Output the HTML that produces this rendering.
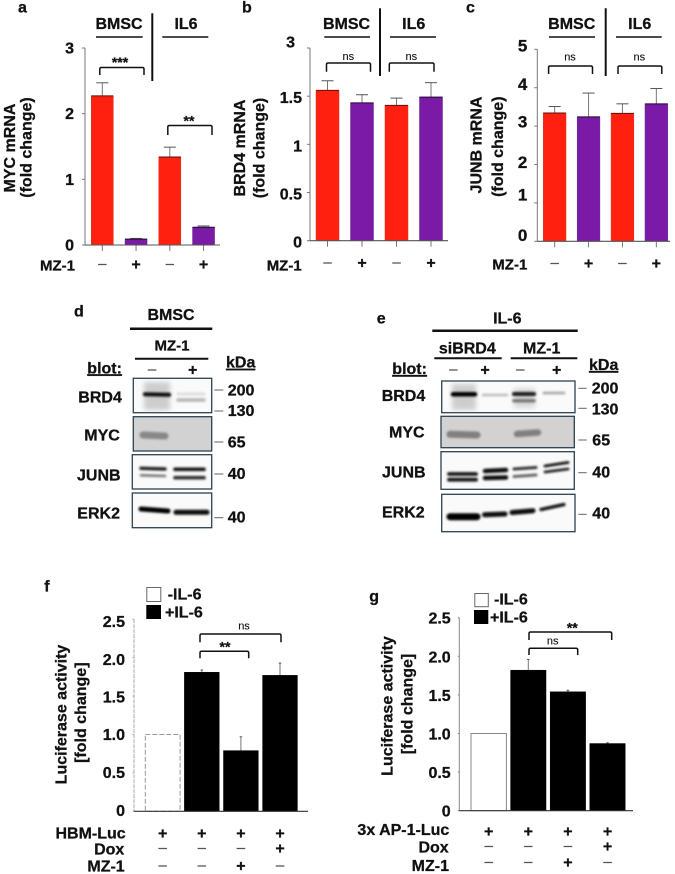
<!DOCTYPE html>
<html lang="en">
<head>
<meta charset="utf-8">
<title>MZ-1 figure panels a-g</title>
<style>
html,body{margin:0;padding:0;background:#fff}
svg{display:block;font-family:"Liberation Sans",Arial,sans-serif;font-weight:700;fill:#111;filter:blur(.3px)}
text{stroke:#111;stroke-width:.28}
text.thin{stroke:#555;stroke-width:.2}
.t16{font-size:16px}.t15{font-size:15px}
text.ns{font-size:11px;font-weight:400;text-anchor:middle;stroke-width:.12}
.star{font-size:14px;text-anchor:middle}.c{text-anchor:middle}.e{text-anchor:end}
.br{fill:none;stroke:#111;stroke-width:1.5}.hd{stroke:#111;stroke-width:1.6}.dv{stroke:#111;stroke-width:2}
.box{fill:#fafafa;stroke:#2c4150;stroke-width:1.3}.mw{stroke:#666;stroke-width:1}
.band{stroke-linecap:round;fill:none;filter:url(#band-blur)}
</style>
</head>
<body>
<svg id="figure" xmlns="http://www.w3.org/2000/svg" width="675" height="874" viewBox="0 0 675 874">
<defs>
<filter id="band-blur" x="-20%" y="-300%" width="140%" height="700%"><feGaussianBlur stdDeviation="1.1"/></filter>
<filter id="smear-blur" x="-30%" y="-60%" width="160%" height="220%"><feGaussianBlur stdDeviation="2.4"/></filter>
</defs>

<g id="panel-a">
<text class="t16" x="18" y="12.5">a</text>
<text class="t16 c" x="119" y="29">BMSC</text>
<line class="hd" x1="96" x2="142.7" y1="37" y2="37"/>
<text class="t16 c" x="186" y="29">IL6</text>
<line class="hd" x1="162.3" x2="208.3" y1="37" y2="37"/>
<line class="dv" x1="152.3" x2="152.3" y1="13.3" y2="81"/>
<path class="br" d="M99.8 75V69Q99.8 67.5 101.3 67.5H142.5Q144 67.5 144 69V75"/>
<text class="star" x="120" y="67">***</text>
<path class="br" d="M167.8 135V127Q167.8 125.5 169.3 125.5H210.5Q212 125.5 212 127V135"/>
<text class="star" x="189" y="125.3">**</text>
<g transform="translate(15,148) rotate(-90)"><text class="t16 c">MYC mRNA</text></g>
<g transform="translate(31.7,147.5) rotate(-90)"><text class="t16 c">(fold change)</text></g>
<text class="t15" x="40" y="270.7">MZ-1</text>
</g>

<g id="panel-b">
<text class="t16" x="242" y="12.7">b</text>
<text class="t16 c" x="346.5" y="29">BMSC</text>
<line class="hd" x1="324.3" x2="370" y1="37" y2="37"/>
<text class="t16 c" x="413.7" y="29">IL6</text>
<line class="hd" x1="390" x2="436" y1="37" y2="37"/>
<line class="dv" x1="380" x2="380" y1="8.3" y2="76"/>
<path class="br" d="M326.5 71.7V64.5Q326.5 63 328 63H369Q370.5 63 370.5 64.5V71.7"/>
<text class="ns" x="348.3" y="60">ns</text>
<path class="br" d="M389.3 71.7V64.5Q389.3 63 390.8 63H432.5Q434 63 434 64.5V71.7"/>
<text class="ns" x="411.3" y="60">ns</text>
<g transform="translate(245,148) rotate(-90)"><text class="t16 c">BRD4 mRNA</text></g>
<g transform="translate(264.3,148) rotate(-90)"><text class="t16 c">(fold change)</text></g>
<text class="t15" x="266.7" y="270.7">MZ-1</text>
</g>

<g id="panel-c">
<text class="t16" x="466" y="12.7">c</text>
<text class="t16 c" x="571.7" y="29">BMSC</text>
<line class="hd" x1="549" x2="595" y1="37" y2="37"/>
<text class="t16 c" x="639.7" y="29">IL6</text>
<line class="hd" x1="616" x2="661.7" y1="37" y2="37"/>
<line class="dv" x1="605.7" x2="605.7" y1="8.3" y2="76"/>
<path class="br" d="M548.6 74V67.5Q548.6 66 550.1 66H591Q592.5 66 592.5 67.5V74"/>
<text class="ns" x="570" y="60.7">ns</text>
<path class="br" d="M618 74V67.5Q618 66 619.5 66H660.3Q661.8 66 661.8 67.5V74"/>
<text class="ns" x="639.3" y="60.7">ns</text>
<g transform="translate(481.7,145) rotate(-90)"><text class="t16 c">JUNB mRNA</text></g>
<g transform="translate(503,146.7) rotate(-90)"><text class="t16 c">(fold change)</text></g>
<text class="t15" x="492.3" y="269.3">MZ-1</text>
</g>

<g id="panel-d">
<text class="t16" x="74" y="316.3">d</text>
<text class="t16 c" x="171" y="320">BMSC</text>
<line stroke="#111" stroke-width="2.5" x1="130" x2="212.3" y1="328.7" y2="328.7"/>
<text class="t15 c" x="172" y="350.7">MZ-1</text>
<line stroke="#111" stroke-width="2" x1="135" x2="208.3" y1="358.7" y2="358.7"/>
<text class="t16" x="87.3" y="373.3" text-decoration="underline">blot:</text>
<text class="t16" x="226" y="367.7" text-decoration="underline">kDa</text>
<text x="152" y="374" class="c thin" font-size="15" font-weight="400" fill="#555">–</text>
<text x="192.7" y="375" class="t16 c">+</text>
<text class="t16" x="78.3" y="402.7">BRD4</text>
<text class="t16" x="84.3" y="440.3">MYC</text>
<text class="t16" x="77" y="480.3">JUNB</text>
<text class="t16" x="77.3" y="518.3">ERK2</text>
<rect class="box" x="133.3" y="378.3" width="78.4" height="34.4"/>
<rect class="box" x="133.3" y="416.7" width="78.4" height="34.3" style="fill:#d2d2d2"/>
<rect class="box" x="132.3" y="454.7" width="79.4" height="34.3"/>
<rect class="box" x="132.3" y="493" width="79.4" height="34.7"/>
<rect x="144" y="382" width="26" height="28" fill="#aaa" opacity=".55" filter="url(#smear-blur)"/>
<g class="band">
<line x1="145" x2="169" y1="394.3" y2="394.8" stroke="#0a0a0a" stroke-width="4"/>
<line x1="178" x2="204" y1="400" y2="400" stroke="#b5b5b5" stroke-width="3.5"/>
<line x1="178" x2="204" y1="394" y2="394" stroke="#ddd" stroke-width="3"/>
<line x1="143" x2="165" y1="435" y2="436" stroke="#888" stroke-width="7"/>
<line x1="141" x2="165" y1="468.3" y2="469" stroke="#222" stroke-width="3.4"/>
<line x1="141" x2="165" y1="475.3" y2="476" stroke="#777" stroke-width="2.6"/>
<line x1="175" x2="204" y1="469.3" y2="469.3" stroke="#181818" stroke-width="3.6"/>
<line x1="175" x2="204" y1="477.7" y2="477.7" stroke="#333" stroke-width="3.6"/>
<line x1="141" x2="168" y1="509" y2="511" stroke="#050505" stroke-width="5"/>
<line x1="176" x2="207" y1="512.3" y2="512.3" stroke="#0a0a0a" stroke-width="5"/>
</g>
<line class="mw" x1="214.3" x2="223.3" y1="390" y2="390"/>
<line class="mw" x1="214.3" x2="223.3" y1="411" y2="411"/>
<line class="mw" x1="214.3" x2="223.3" y1="442" y2="442"/>
<line class="mw" x1="214.3" x2="223.3" y1="474" y2="474"/>
<line class="mw" x1="214.3" x2="223.3" y1="517.7" y2="517.7"/>
<text class="t16" x="227.7" y="395.7">200</text>
<text class="t16" x="227.7" y="416">130</text>
<text class="t16" x="227.7" y="447.7">65</text>
<text class="t16" x="227.7" y="479">40</text>
<text class="t16" x="227.7" y="522.3">40</text>
</g>

<g id="panel-e">
<text class="t16" x="376.7" y="323.3">e</text>
<text class="t16 c" x="507.3" y="323.3">IL-6</text>
<line stroke="#111" stroke-width="2.5" x1="432.3" x2="577.7" y1="330.7" y2="330.7"/>
<text class="t16 c" x="467.3" y="353.3">siBRD4</text>
<line stroke="#111" stroke-width="2" x1="434.3" x2="501.7" y1="358.3" y2="358.3"/>
<text class="t16 c" x="541.7" y="353.3">MZ-1</text>
<line stroke="#111" stroke-width="2" x1="510.7" x2="577.3" y1="358.3" y2="358.3"/>
<text class="t16" x="392.3" y="374" text-decoration="underline">blot:</text>
<text class="t16" x="589" y="370" text-decoration="underline">kDa</text>
<text x="453.3" y="374" class="c thin" font-size="15" font-weight="400" fill="#555">–</text>
<text x="485" y="375" class="t16 c">+</text>
<text x="520.3" y="374" class="c thin" font-size="15" font-weight="400" fill="#555">–</text>
<text x="556.7" y="375" class="t16 c">+</text>
<text class="t16" x="381.7" y="401">BRD4</text>
<text class="t16" x="389" y="437.3">MYC</text>
<text class="t16" x="382" y="477.7">JUNB</text>
<text class="t16" x="382" y="517.3">ERK2</text>
<rect class="box" x="441.7" y="381" width="133.3" height="31.7"/>
<rect class="box" x="441" y="416.3" width="133.3" height="31.4" style="fill:#d2d2d2"/>
<rect class="box" x="441" y="451.7" width="133.3" height="37.6"/>
<rect class="box" x="441.7" y="494.3" width="133.3" height="37.4"/>
<rect x="452" y="384" width="24" height="26" fill="#aaa" opacity=".55" filter="url(#smear-blur)"/>
<rect x="514" y="388" width="21" height="20" fill="#aaa" opacity=".4" filter="url(#smear-blur)"/>
<g class="band">
<line x1="453" x2="475" y1="394.3" y2="394.3" stroke="#060606" stroke-width="4.5"/>
<line x1="483" x2="507" y1="395" y2="395" stroke="#bbb" stroke-width="2.5"/>
<line x1="514" x2="534" y1="394" y2="394" stroke="#1a1a1a" stroke-width="4"/>
<line x1="514" x2="534" y1="400.7" y2="400.7" stroke="#777" stroke-width="3.5"/>
<line x1="544" x2="564" y1="393" y2="393" stroke="#aaa" stroke-width="2.8"/>
<line x1="450" x2="477" y1="434.3" y2="435" stroke="#808080" stroke-width="7"/>
<line x1="517" x2="538" y1="434" y2="432.5" stroke="#808080" stroke-width="6.500"/>
<line x1="449" x2="476" y1="474" y2="474" stroke="#181818" stroke-width="3.8"/>
<line x1="449" x2="476" y1="479.7" y2="479.7" stroke="#181818" stroke-width="3.8"/>
<line x1="485" x2="506" y1="471" y2="470" stroke="#0d0d0d" stroke-width="4.5"/>
<line x1="485" x2="506" y1="478" y2="477.5" stroke="#0d0d0d" stroke-width="4.5"/>
<line x1="514" x2="536" y1="469" y2="467.5" stroke="#333" stroke-width="3"/>
<line x1="514" x2="536" y1="476.5" y2="475" stroke="#666" stroke-width="3"/>
<line x1="545" x2="568" y1="466" y2="462.5" stroke="#111" stroke-width="2.8"/>
<line x1="545" x2="568" y1="472" y2="469" stroke="#222" stroke-width="2.8"/>
<line x1="450" x2="477" y1="516.7" y2="516.7" stroke="#050505" stroke-width="7"/>
<line x1="484.5" x2="505" y1="514.7" y2="514" stroke="#070707" stroke-width="5"/>
<line x1="512" x2="533" y1="512.5" y2="510.7" stroke="#070707" stroke-width="5"/>
<line x1="541" x2="564" y1="509.5" y2="504.5" stroke="#0d0d0d" stroke-width="3.2"/>
</g>
<line class="mw" x1="578.3" x2="586.7" y1="388.3" y2="388.3"/>
<line class="mw" x1="578.3" x2="586.7" y1="408.3" y2="408.3"/>
<line class="mw" x1="578.3" x2="586.7" y1="440" y2="440"/>
<line class="mw" x1="578.3" x2="586.7" y1="472.7" y2="472.7"/>
<line class="mw" x1="578.3" x2="586.7" y1="514.3" y2="514.3"/>
<text class="t16" x="591.7" y="393.7">200</text>
<text class="t16" x="591.7" y="414.3">130</text>
<text class="t16" x="592.3" y="445.7">65</text>
<text class="t16" x="592.3" y="477.7">40</text>
<text class="t16" x="592.3" y="518.3">40</text>
</g>

<g id="panel-f">
<text class="t16" x="44.3" y="591.7">f</text>
<rect x="146.8" y="587.5" width="14" height="14" fill="#fff" stroke="#666"/>
<rect x="146.3" y="605" width="14.7" height="14" fill="#000"/>
<text class="t16" x="167.7" y="599.7">-IL-6</text>
<text class="t16" x="165" y="617.7">+IL-6</text>
<g transform="translate(66.7,714.5) rotate(-90)"><text class="t16 c">Luciferase activity</text></g>
<g transform="translate(86,712.7) rotate(-90)"><text class="t16 c">[fold change]</text></g>
<text class="t16 e" x="125.7" y="838.3">HBM-Luc</text>
<text class="t16 e" x="124.3" y="854.3">Dox</text>
<text class="t16 e" x="124.7" y="871.7">MZ-1</text>
<path class="br" d="M200 642.3V635.5Q200 634 201.500 634H279.500Q281 634 281 635.5V642.3"/>
<text class="ns" x="244" y="629.300">ns</text>
<path class="br" d="M200 658.3V652.7Q200 651.200 201.500 651.200H247.200Q248.700 651.200 248.700 652.7V658.3"/>
<text class="star" x="225" y="651.300">**</text>
</g>

<g id="panel-g">
<text class="t16" x="369.3" y="601.7">g</text>
<rect x="474.8" y="593.5" width="13.5" height="13.2" fill="#fff" stroke="#666"/>
<rect x="474" y="610" width="14.3" height="14" fill="#000"/>
<text class="t16" x="494" y="604.3">-IL-6</text>
<text class="t16" x="490" y="622.7">+IL-6</text>
<g transform="translate(392.700,706) rotate(-90)"><text class="t16 c">Luciferase activity</text></g>
<g transform="translate(412.300,704) rotate(-90)"><text class="t16 c">[fold change]</text></g>
<text class="t16 e" x="449.300" y="835">3x AP-1-Luc</text>
<text class="t16 e" x="448.700" y="852.300">Dox</text>
<text class="t16 e" x="449" y="871">MZ-1</text>
<path class="br" d="M529 640V633.500Q529 632 530.500 632H610.200Q611.700 632 611.700 633.500V640"/>
<text class="star" x="572.300" y="632.300">**</text>
<path class="br" d="M529 655V649.800Q529 648.300 530.500 648.300H576.200Q577.700 648.300 577.700 649.800V655"/>
<text class="ns" x="552.700" y="644.300">ns</text>
</g>
</svg>

<script>
// Panels a, b, c
const mrnaTreatments = ['-', '+', '-', '+'];

const aValues = [2.27, 0.09, 1.34, 0.27];
const aErrorTops = [2.47, 0.10, 1.49, 0.29];
const aTickValues = [0, 1, 2, 3];
const aTickLabels = ['0', '1', '2', '3'];

const bValues = [1.56, 1.43, 1.405, 1.49];
const bErrorTops = [1.66, 1.515, 1.48, 1.64];
const bTickValues = [0, 0.5, 1, 1.5, 2];
const bTickLabels = ['0', '0.5', '1', '1.5', '3'];

const cValues = [3.34, 3.24, 3.33, 3.58];
const cErrorTops = [3.51, 3.86, 3.58, 3.98];
const cTickValues = [0, 1, 2, 3, 4, 5];
const cTickLabels = ['0', '1', '2', '3', '4', '5'];

// Panels f, g
const lucGroups = ['-IL-6', '+IL-6', '+IL-6', '+IL-6'];

const fValues = [1.0, 1.81, 0.79, 1.77];
const fErrorTops = [1.0, 1.84, 0.97, 1.93];
const fReporterRow = ['+', '+', '+', '+'];
const fDoxRow = ['-', '-', '-', '+'];
const fMzRow = ['-', '-', '+', '-'];

const gValues = [1.0, 1.82, 1.54, 0.87];
const gErrorTops = [1.0, 1.96, 1.56, 0.88];
const gReporterRow = ['+', '+', '+', '+'];
const gDoxRow = ['-', '-', '-', '+'];
const gMzRow = ['-', '-', '+', '-'];

const lucTickValues = [0, 0.5, 1, 1.5, 2, 2.5];
const lucTickLabels = ['0', '0.5', '1.0', '1.5', '2.0', '2.5'];

const SVG_NS = 'http://www.w3.org/2000/svg';

function make(tag, parent, attrs) {
  const el = document.createElementNS(SVG_NS, tag);
  for (const k in attrs) el.setAttribute(k, attrs[k]);
  parent.appendChild(el);
  return el;
}

function drawSign(parent, sign, x, cy) {
  const isPlus = sign === '+';
  const el = make('text', parent, {
    x: x, y: cy + (isPlus ? 5.3 : 4.3), 'text-anchor': 'middle',
    'font-size': isPlus ? 16 : 15, 'font-weight': isPlus ? 700 : 400, fill: isPlus ? '#111' : '#555',
    class: isPlus ? '' : 'thin'
  });
  el.textContent = isPlus ? '+' : '–';
  
  
}

function drawChart(o) {
  const g = document.getElementById(o.panel);
  const yPos = v => o.y0 - (v / o.yMax) * (o.y0 - o.yTop);
  const barX = i => o.firstBar + i * o.step;
  const barMid = i => barX(i) + o.barW / 2;

  o.tickValues.forEach((t, i) => {
    const tick = make('line', g, { x1: o.axisX - o.tickLen, x2: o.axisX, y1: yPos(t), y2: yPos(t), stroke: o.axisColor, 'stroke-width': 1 });
    
    
    const shift = o.labelShift ? o.labelShift(i) : [0, 0];
    const label = make('text', g, { x: o.labelX + shift[0], y: yPos(t) + 5.5 + shift[1], 'text-anchor': 'end', 'font-size': o.labelSize });
    label.textContent = o.tickLabels[i];
    
    
  });

  const yAxis = make('line', g, { x1: o.axisX, x2: o.axisX, y1: yPos(o.yMax), y2: o.y0, stroke: o.axisColor, 'stroke-width': 1, 'stroke-dasharray': o.axisDash || 'none' });
  
  

  o.values.forEach((v, i) => {
    const errLine = make('line', g, { x1: barMid(i), x2: barMid(i), y1: yPos(v), y2: yPos(o.errorTops[i]), stroke: '#777', 'stroke-width': 1 });
    
    
    const errCap = make('line', g, { x1: barMid(i) - o.capW / 2, x2: barMid(i) + o.capW / 2, y1: yPos(o.errorTops[i]), y2: yPos(o.errorTops[i]), stroke: '#555', 'stroke-width': 1 });
    
    

    const style = o.barStyle(i);
    const bar = make('rect', g, {
      x: barX(i), y: yPos(v), width: o.barW, height: o.y0 - yPos(v),
      fill: style.fill, stroke: style.stroke, 'stroke-width': style.strokeW,
      'stroke-dasharray': style.dash || 'none'
    });
    
    

    if (style.top) {
      const topEdge = make('line', g, { x1: barX(i), x2: barX(i) + o.barW, y1: yPos(v), y2: yPos(v), stroke: style.top, 'stroke-width': 1 });
      
      
    }
    if (o.xTickLen) {
      const xt = make('line', g, { x1: barMid(i), x2: barMid(i), y1: o.y0, y2: o.y0 + o.xTickLen, stroke: '#777', 'stroke-width': 1 });
      
      
    }
  });

  const xAxis = make('line', g, { x1: o.axisX, x2: o.axisEnd, y1: o.y0, y2: o.y0, stroke: o.baseColor, 'stroke-width': 1.1 });
  
  

  o.signRows.forEach(r => r.row.forEach((s, i) => drawSign(g, s, barMid(i), r.cy)));
}

const mrnaStyle = i => mrnaTreatments[i] === '-'
  ? { fill: '#ff2010', stroke: '#d8301c', strokeW: 0.5, top: '#5a1208' }
  : { fill: '#7a1aa6', stroke: '#5f2a80', strokeW: 0.5, top: '#1d0a2c' };

drawChart({
  panel: 'panel-a', values: aValues, errorTops: aErrorTops, tickValues: aTickValues, tickLabels: aTickLabels,
  yMax: 3, y0: 245, yTop: 48, axisX: 85, axisEnd: 220, firstBar: 91.3, step: 33.75, barW: 22,
  capW: 12, tickLen: 3, xTickLen: 6, axisColor: '#777', baseColor: '#555', labelX: 74, labelSize: 16,
  labelShift: () => [0, 0], barStyle: mrnaStyle,
  signRows: [{ row: mrnaTreatments, cy: 264.3 }]
});

drawChart({
  panel: 'panel-b', values: bValues, errorTops: bErrorTops, tickValues: bTickValues, tickLabels: bTickLabels,
  yMax: 2, y0: 240.7, yTop: 48, axisX: 310, axisEnd: 448, firstBar: 316, step: 34.5, barW: 23,
  capW: 12, tickLen: 3, xTickLen: 6, axisColor: '#777', baseColor: '#555', labelX: 302, labelSize: 16,
  labelShift: i => (i === 4 ? [-7, -6] : [0, 1.5]), barStyle: mrnaStyle,
  signRows: [{ row: mrnaTreatments, cy: 262.5 }]
});

drawChart({
  panel: 'panel-c', values: cValues, errorTops: cErrorTops, tickValues: cTickValues, tickLabels: cTickLabels,
  yMax: 5, y0: 241.3, yTop: 49.3, axisX: 537.3, axisEnd: 670, firstBar: 543.3, step: 33.9, barW: 22.7,
  capW: 12, tickLen: 3, xTickLen: 6, axisColor: '#777', baseColor: '#555', labelX: 527.3, labelSize: 17,
  labelShift: i => [0, [-6, -8, -2, -4, -3.4, -3.5][i]], barStyle: mrnaStyle,
  signRows: [{ row: mrnaTreatments, cy: 263 }]
});

drawChart({
  panel: 'panel-f', values: fValues, errorTops: fErrorTops, tickValues: lucTickValues, tickLabels: lucTickLabels,
  yMax: 2.5, y0: 811.3, yTop: 619.3, axisX: 134, axisEnd: 308, firstBar: 145.3, step: 39.1, barW: 34.8,
  capW: 2.5, tickLen: 1.5, xTickLen: 0, axisColor: '#aaa', axisDash: '4 1', baseColor: '#333', labelX: 125, labelSize: 16,
  labelShift: i => [0, [-1, -0.6, 0, 0.7, 1.6, 2][i]],
  barStyle: i => lucGroups[i] === '-IL-6'
    ? { fill: '#fff', stroke: '#999', strokeW: 1, dash: '5 2' }
    : { fill: '#000', stroke: '#000', strokeW: 0.5 },
  signRows: [{ row: fReporterRow, cy: 833 }, { row: fDoxRow, cy: 848 }, { row: fMzRow, cy: 865.5 }]
});

drawChart({
  panel: 'panel-g', values: gValues, errorTops: gErrorTops, tickValues: lucTickValues, tickLabels: lucTickLabels,
  yMax: 2.5, y0: 810.7, yTop: 617.7, axisX: 459.3, axisEnd: 633, firstBar: 471, step: 39.6, barW: 35.4,
  capW: 2.5, tickLen: 1.5, xTickLen: 0, axisColor: '#888', baseColor: '#333', labelX: 450.7, labelSize: 16,
  labelShift: () => [0, 0.5],
  barStyle: i => lucGroups[i] === '-IL-6'
    ? { fill: '#fff', stroke: '#888', strokeW: 1 }
    : { fill: '#000', stroke: '#000', strokeW: 0.5 },
  signRows: [{ row: gReporterRow, cy: 831 }, { row: gDoxRow, cy: 846 }, { row: gMzRow, cy: 862 }]
});
</script>
</body>
</html>
